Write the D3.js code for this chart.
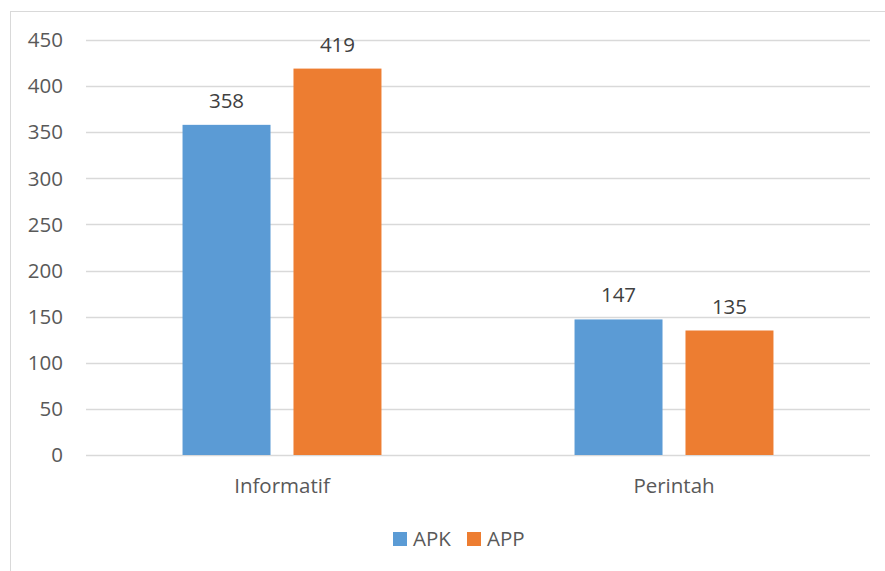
<!DOCTYPE html>
<html>
<head>
<meta charset="utf-8">
<script src="https://cdn.jsdelivr.net/npm/d3@7"></script>
<style>
  body { margin: 0; background: #fff; }
  text { font-family: "Open Sans", sans-serif; fill: #595959; }
</style>
</head>
<body>
<div id="chart"></div>
<script>
// data
var categories = ["Informatif", "Perintah"];
var seriesNames = ["APK", "APP"];
var apk = [358, 147];
var app = [419, 135];
var yTicks = [0, 50, 100, 150, 200, 250, 300, 350, 400, 450];

var width = 885, height = 571;
var margin = { top: 40, right: 15, bottom: 116, left: 86 };
var colors = ["#5B9BD5", "#ED7D31"];

var svg = d3.select("#chart").append("svg")
    .attr("width", width)
    .attr("height", height);

// chart frame
svg.append("rect")
    .attr("x", 10.5).attr("y", 11.5)
    .attr("width", width).attr("height", height)
    .attr("fill", "none")
    .attr("stroke", "#d9d9d9");

var innerW = width - margin.left - margin.right;
var innerH = height - margin.top - margin.bottom;
var g = svg.append("g")
    .attr("transform", "translate(" + margin.left + "," + margin.top + ")");

var x0 = d3.scaleBand().domain(categories).range([0, innerW]).paddingInner(0).paddingOuter(0);
var x1 = d3.scaleBand().domain(seriesNames).range([0, x0.bandwidth()]).paddingInner(0.207).paddingOuter(0.87);
var y = d3.scaleLinear().domain([0, 450]).range([innerH, 0]);

// grid lines
g.selectAll(".grid")
    .data(yTicks)
    .enter().append("line")
    .attr("x1", 0).attr("x2", innerW)
    .attr("y1", function (d) { return Math.round(y(d)) + 0.5; })
    .attr("y2", function (d) { return Math.round(y(d)) + 0.5; })
    .attr("stroke", "#d9d9d9")
    .attr("stroke-width", 1.3);

// y labels
g.selectAll(".ylab")
    .data(yTicks)
    .enter().append("text")
    .attr("x", -23)
    .attr("y", function (d) { return y(d); })
    .attr("dy", "0.35em")
    .attr("text-anchor", "end")
    .style("font-size", "20.5px")
    .text(function (d) { return d; });

var rows = categories.map(function (c, i) {
    return { cat: c, values: [{ key: "APK", v: apk[i] }, { key: "APP", v: app[i] }] };
});

var grp = g.selectAll(".cat")
    .data(rows)
    .enter().append("g")
    .attr("transform", function (d) { return "translate(" + x0(d.cat) + ",0)"; });

grp.selectAll("rect")
    .data(function (d) { return d.values; })
    .enter().append("rect")
    .attr("x", function (d) { return x1(d.key); })
    .attr("width", x1.bandwidth())
    .attr("y", function (d) { return y(d.v); })
    .attr("height", function (d) { return innerH - y(d.v); })
    .attr("fill", function (d, i) { return colors[i]; });

grp.selectAll(".val")
    .data(function (d) { return d.values; })
    .enter().append("text")
    .attr("x", function (d) { return x1(d.key) + x1.bandwidth() / 2; })
    .attr("y", function (d) { return y(d.v) - 17; })
    .attr("text-anchor", "middle")
    .style("font-size", "20.5px")
    .style("fill", "#404040")
    .text(function (d) { return d.v; });

// category labels
g.selectAll(".xlab")
    .data(categories)
    .enter().append("text")
    .attr("x", function (d) { return x0(d) + x0.bandwidth() / 2; })
    .attr("y", innerH + 38)
    .attr("text-anchor", "middle")
    .style("font-size", "20.5px")
    .text(function (d) { return d; });

// legend
var legend = svg.append("g").attr("transform", "translate(393,532)");
var lx = [0, 74];
seriesNames.forEach(function (s, i) {
    legend.append("rect")
        .attr("x", lx[i]).attr("y", 0)
        .attr("width", 14).attr("height", 14)
        .attr("fill", colors[i]);
    legend.append("text")
        .attr("x", lx[i] + 20).attr("y", 7)
        .attr("dy", "0.36em")
        .style("font-size", "20.5px")
        .text(s);
});
</script>
</body>
</html>
